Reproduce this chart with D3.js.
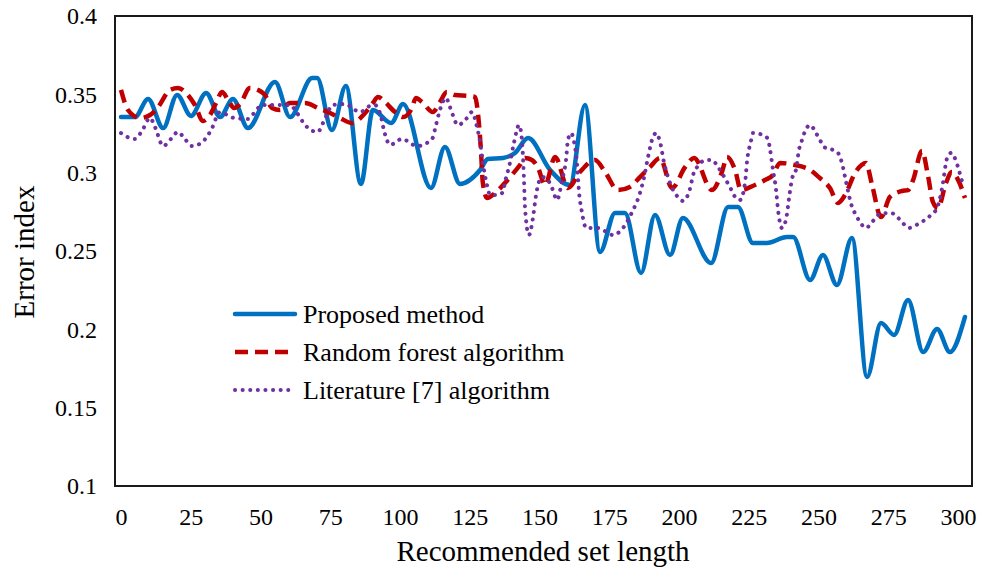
<!DOCTYPE html>
<html>
<head>
<meta charset="utf-8">
<script src="https://cdn.jsdelivr.net/npm/d3@7"></script>
<style>
  body { margin: 0; background: #fff; }
  svg text { font-family: "Liberation Serif", "Times New Roman", serif; fill: #000; }
</style>
</head>
<body>
<svg id="chart" width="987" height="570"></svg>
<script>
// Data
const xTicks = [0, 25, 50, 75, 100, 125, 150, 175, 200, 225, 250, 275, 300];
const yTicks = [0.1, 0.15, 0.2, 0.25, 0.3, 0.35, 0.4];
const yTickLabels = ["0.1", "0.15", "0.2", "0.25", "0.3", "0.35", "0.4"];
const seriesNames = ["Proposed method", "Random forest algorithm", "Literature [7] algorithm"];

const proposedX = [0, 5, 9.7, 15.1, 20.1, 25.1, 30.5, 35.5, 40.1, 45.5, 55.2, 60.6, 68.5, 70.3, 75.6, 80.6, 86, 90.3, 96.8, 101.1,
  111.1, 116.1, 121.5, 128.7, 131.5, 136.9, 141.2, 145.9, 153.8, 160.9, 166.3, 171.7, 177.1, 180.6, 186.4, 191.4, 196.8, 201.4,
  211.5, 217.6, 221.1, 226.5, 231.5, 238.7, 240.9, 247, 251.6, 256.6, 262, 267.4, 272.4, 277.1, 282.1, 287.5, 292.5, 297.1, 302.5];
const proposedY = [0.3355, 0.3355, 0.347, 0.3285, 0.3496, 0.3362, 0.3509, 0.3355, 0.347, 0.3285, 0.3579, 0.3355, 0.3604, 0.3604, 0.3272, 0.3553, 0.2928, 0.34, 0.3317, 0.3438,
  0.2902, 0.3164, 0.2928, 0.3017, 0.3087, 0.3094, 0.3126, 0.3221, 0.3017, 0.2921, 0.3432, 0.2494, 0.2743, 0.2743, 0.236, 0.273, 0.2474, 0.2711,
  0.2423, 0.2781, 0.2781, 0.2551, 0.2551, 0.2589, 0.2589, 0.2315, 0.2474, 0.2283, 0.2583, 0.1696, 0.204, 0.1964, 0.2187, 0.1855, 0.2002, 0.1855, 0.2079];

const forestX = [0, 2.5, 6.8, 10.4, 13.3, 17.6, 20.4, 24, 26.5, 29.4, 31.9, 34.1, 36.2, 38.4, 40.5, 42.7, 46.2, 49.1, 51.6, 54.1,
  57, 60.6, 66, 70.6, 74.9, 78.5, 82.8, 87.5, 90.3, 92.1, 94.6, 98.2, 101.1, 104.3, 105.7, 107.9, 111.8, 114.3, 116.8, 119.7,
  125.1, 126.9, 128, 129, 129.7, 131.2, 134.1, 137.6, 140.1, 143, 144.8, 147.3, 149.5, 152, 155.6, 160.2, 164.5, 169.9, 173.5,
  178.1, 182.4, 186, 189.6, 193.2, 197.5, 202.2, 205.4, 211.8, 215.4, 217.2, 220.1, 222.2, 227.2, 230.8, 233.7, 236.2, 241.6,
  247, 250.5, 254.1, 257, 259.5, 263.1, 267, 269.2, 272.4, 275.6, 279.9, 282.1, 283.9, 287.1, 289.2, 291, 292.8, 295.7, 297.8,
  300.4, 302.5];
const forestY = [0.3528, 0.34, 0.3349, 0.3368, 0.3419, 0.3528, 0.354, 0.3496, 0.3432, 0.333, 0.3368, 0.3445, 0.3515, 0.3464, 0.3413, 0.3438, 0.354, 0.3528, 0.3496, 0.3413,
  0.34, 0.3445, 0.3445, 0.3413, 0.3381, 0.3349, 0.3317, 0.3381, 0.3445, 0.3483, 0.3451, 0.3387, 0.3355, 0.3413, 0.3477, 0.3451, 0.3387, 0.3451, 0.3515, 0.3496,
  0.3489, 0.3483, 0.3368, 0.3145, 0.2934, 0.2838, 0.287, 0.2934, 0.2985, 0.3049, 0.3094, 0.3081, 0.303, 0.2921, 0.31, 0.2902, 0.3004, 0.3081, 0.3004,
  0.2889, 0.2909, 0.2972, 0.3036, 0.3094, 0.2902, 0.3036, 0.3094, 0.2889, 0.3004, 0.31, 0.3017, 0.2889, 0.2921, 0.2953, 0.2985, 0.3062, 0.3049,
  0.3017, 0.2966, 0.2902, 0.2806, 0.2857, 0.2998, 0.3062, 0.2921, 0.2717, 0.2845, 0.2883, 0.2889, 0.2953, 0.3138, 0.2985, 0.2813, 0.2774, 0.2934, 0.3004,
  0.294, 0.2838];

const literatureX = [0, 3.2, 5, 7.5, 10.4, 12.2, 15.1, 17.9, 20.4, 22.9, 25.4, 28.7, 32.3, 35.5, 38.7, 40.5, 45.5, 48, 50.5, 55.9,
  60.6, 63.1, 66, 68.8, 70.6, 72.4, 76, 80.3, 83.9, 85.7, 89.2, 91, 92.8, 94.6, 96.4, 100.7, 106.1, 111.5, 112.9, 114.3,
  116.5, 117.9, 120.8, 123.7, 125.8, 127.6, 128.7, 129.7, 131.2, 132.3, 134.8, 136.6, 138, 139.4, 140.9, 142.7, 143.7, 144.4, 144.8,
  146.2, 147.7, 148.7, 150.9, 153, 154.5, 156.3, 158.1, 159.5, 160.2, 161.3, 162.4, 163.4, 164.2, 165.2, 166.7, 171, 176.3,
  179.6, 183.2, 186, 187.5, 188.9, 190.7, 191.8, 193.2, 194.6, 196.4, 197.5, 200, 201.4, 203.6, 205.4, 206.5, 209.7, 211.8,
  214, 215.8, 218.6, 220.4, 221.9, 223.7, 224.4, 225.8, 226.5, 230.1, 231.9, 232.6, 233.7, 234.8, 235.5, 236.9, 238.4, 239.4,
  240.5, 241.9, 243, 244.1, 245.2, 247, 249.1, 250.9, 252, 255.2, 257, 258.4, 259.9, 261.6, 263.8, 265.6, 267, 269.5, 272,
  275.6, 277.1, 279.9, 282.4, 285.7, 290.3, 292.5, 294.3, 296.1, 297.5, 299.3, 300.4, 301.4];
const literatureY = [0.3253, 0.3221, 0.3215, 0.3266, 0.3349, 0.3291, 0.317, 0.3215, 0.326, 0.3215, 0.317, 0.3189, 0.3272, 0.3387, 0.3362, 0.3349, 0.3343, 0.3387, 0.3432, 0.3432,
  0.3432, 0.3381, 0.3304, 0.3266, 0.326, 0.3317, 0.3432, 0.3438, 0.34, 0.3387, 0.3426, 0.3432, 0.3381, 0.3247, 0.3177, 0.3215, 0.317, 0.3215, 0.3304, 0.34,
  0.3477, 0.3419, 0.3304, 0.3343, 0.3387, 0.3291, 0.3196, 0.3062, 0.2921, 0.2857, 0.2857, 0.287, 0.2966, 0.3062, 0.3196, 0.3304, 0.3209, 0.2972, 0.2781,
  0.2602, 0.2717, 0.2851, 0.2972, 0.2953, 0.2902, 0.2826, 0.2953, 0.3081, 0.3209, 0.3253, 0.3196, 0.3068, 0.287, 0.2749, 0.2647, 0.2647, 0.2602,
  0.264, 0.2749, 0.287, 0.2972, 0.31, 0.3228, 0.3253, 0.3196, 0.3068, 0.2953, 0.2902, 0.2838, 0.2819, 0.2877, 0.3004, 0.3036, 0.3081, 0.3081,
  0.3036, 0.2985, 0.2896, 0.2838, 0.2826, 0.294, 0.3074, 0.3202, 0.3253, 0.324, 0.3215, 0.3151, 0.3017, 0.2889, 0.2762, 0.2647, 0.2704, 0.2832,
  0.296, 0.3017, 0.3145, 0.3209, 0.3266, 0.3304, 0.3253, 0.3196, 0.3164, 0.3145, 0.3126, 0.3062, 0.294, 0.2806, 0.2717, 0.2666, 0.2647, 0.2691, 0.2736,
  0.2743, 0.2736, 0.2685, 0.2647, 0.2672, 0.273, 0.2774, 0.2902, 0.3094, 0.3126, 0.3074, 0.3011, 0.2947];

// Setup
const svg = d3.select("#chart");
const frame = { left: 115, top: 16, right: 972, bottom: 486 };

const x = d3.scaleLinear().domain([0, 300]).range([121, 958]);
const y = d3.scaleLinear().domain([0.1, 0.4]).range([frame.bottom, frame.top]);

const series = [
  { name: seriesNames[0], xs: proposedX, ys: proposedY, color: "#0070C0", width: 4.5, dash: null, cap: "round" },
  { name: seriesNames[1], xs: forestX, ys: forestY, color: "#C00000", width: 4.5, dash: "13,7", cap: "butt" },
  { name: seriesNames[2], xs: literatureX, ys: literatureY, color: "#7030A0", width: 4, dash: "0.1,7.5", cap: "round" }
];

// Axes (labels only, no tick marks)
svg.append("g")
    .attr("transform", `translate(${frame.left},0)`)
    .call(d3.axisLeft(y).tickValues(yTicks).tickSize(0).tickPadding(18)
        .tickFormat((d, i) => yTickLabels[i]))
    .call(g => g.select(".domain").remove())
    .selectAll("text")
        .style("font-family", "'Liberation Serif', serif")
        .style("font-size", "24px");

svg.append("g")
    .attr("transform", `translate(0,${frame.bottom})`)
    .call(d3.axisBottom(x).tickValues(xTicks).tickSize(0).tickPadding(22).tickFormat(d3.format("d")))
    .call(g => g.select(".domain").remove())
    .selectAll("text")
        .style("font-family", "'Liberation Serif', serif")
        .style("font-size", "24px");

// Lines
const line = d3.line()
    .x(d => x(d[0]))
    .y(d => y(d[1]))
    .curve(d3.curveMonotoneX);

const plot = svg.append("g");
series.forEach(s => {
    plot.append("path")
        .datum(s.xs.map((v, i) => [v, s.ys[i]]))
        .attr("fill", "none")
        .attr("stroke", s.color)
        .attr("stroke-width", s.width)
        .attr("stroke-linecap", s.cap)
        .attr("stroke-linejoin", "round")
        .attr("stroke-dasharray", s.dash)
        .attr("d", line);
});

// Frame
svg.append("rect")
    .attr("x", frame.left)
    .attr("y", frame.top)
    .attr("width", frame.right - frame.left)
    .attr("height", frame.bottom - frame.top)
    .attr("fill", "none")
    .attr("stroke", "#1a1a1a")
    .attr("stroke-width", 2);

// Axis titles
svg.append("text")
    .attr("transform", "translate(34,252) rotate(-90)")
    .attr("text-anchor", "middle")
    .style("font-size", "29px")
    .text("Error index");

svg.append("text")
    .attr("x", 543)
    .attr("y", 561)
    .attr("text-anchor", "middle")
    .style("font-size", "29px")
    .text("Recommended set length");

// Legend
const legend = svg.append("g").attr("transform", "translate(235,314)");
series.forEach((s, i) => {
    const row = legend.append("g").attr("transform", `translate(0,${i * 38})`);
    row.append("line")
        .attr("x1", 0).attr("x2", 60)
        .attr("stroke", s.color)
        .attr("stroke-width", s.width)
        .attr("stroke-linecap", s.cap)
        .attr("stroke-dasharray", s.dash);
    row.append("text")
        .attr("x", 68)
        .attr("dy", "0.35em")
        .style("font-size", "26px")
        .text(s.name);
});
</script>
</body>
</html>
